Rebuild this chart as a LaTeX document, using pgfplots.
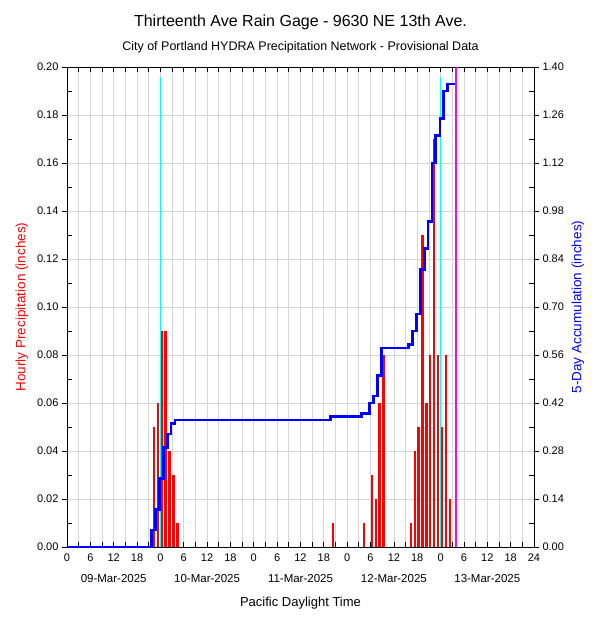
\documentclass[border=0pt]{standalone}
\usepackage{pgfplots}
\pgfplotsset{compat=1.18}
\usepackage{fontspec}
\setmainfont{Liberation Sans}
\definecolor{gridgray}{RGB}{214,214,214}
\definecolor{accblue}{RGB}{0,0,255}
\definecolor{precred}{RGB}{255,0,0}
\definecolor{daycyan}{RGB}{0,255,255}
\definecolor{nowmag}{RGB}{255,0,255}
\newcommand\fs[1]{\fontsize{#1}{#1}\selectfont}
\begin{document}
\begin{tikzpicture}[x=1pt,y=1pt]
\useasboundingbox (0,0) rectangle (600,625);
% ---------- left axis: hourly precipitation ----------
\begin{axis}[
  scale only axis, width=467pt, height=480pt,
  at={(67pt,78pt)}, anchor=south west,
  xmin=0, xmax=120, ymin=0, ymax=0.2,
  clip=false,
  axis line style={black, line width=0.8pt},
  xtick={0,6,...,120}, minor xtick={3,9,...,117},
  xticklabels={0,6,12,18,0,6,12,18,0,6,12,18,0,6,12,18,0,6,12,18,24},
  ytick={0,0.02,0.04,0.06,0.08,0.10,0.12,0.14,0.16,0.18,0.20},
  minor ytick={0.01,0.03,0.05,0.07,0.09,0.11,0.13,0.15,0.17,0.19},
  xtick pos=both, ytick pos=left,
  tick align=inside,
  major tick length=5pt, minor tick length=5pt,
  every tick/.style={black, line width=0.8pt},
  every major y tick/.style={xshift=-5pt},
  xmajorgrids, xminorgrids, ymajorgrids,
  grid style={gridgray, line width=0.8pt},
  minor grid style={gridgray, line width=0.8pt},
  tick label style={font=\fs{11}},
  /pgf/number format/assume math mode=true,
  yticklabel style={xshift=-5pt, /pgf/number format/fixed, /pgf/number format/fixed zerofill, /pgf/number format/precision=2},
  xticklabel style={yshift=-3pt},
]
\addplot[ycomb, draw=precred, line width=2.4pt, mark=none] coordinates {
 (22.35,0.05) (23.35,0.06) (24.35,0.09) (25.35,0.09) (26.35,0.04) (27.35,0.03) (28.35,0.01)
 (68.35,0.01) (76.35,0.01) (78.35,0.03) (79.35,0.02) (80.35,0.06) (81.35,0.08)
 (88.35,0.01) (89.35,0.04) (90.35,0.05) (91.35,0.13) (92.35,0.06) (93.35,0.08)
 (94.35,0.17) (95.35,0.08) (96.35,0.05) (97.35,0.08) (98.35,0.02)
};
\addplot[daycyan, line width=1pt, mark=none] coordinates {(24,0) (24,0.196)};
\addplot[daycyan, line width=1pt, mark=none] coordinates {(96,0) (96,0.196)};
\node[font=\fs{11.5}] at (axis cs:12,0)  [yshift=-32pt] {09-Mar-2025};
\node[font=\fs{11.5}] at (axis cs:36,0)  [yshift=-32pt] {10-Mar-2025};
\node[font=\fs{11.5}] at (axis cs:60,0)  [yshift=-32pt] {11-Mar-2025};
\node[font=\fs{11.5}] at (axis cs:84,0)  [yshift=-32pt] {12-Mar-2025};
\node[font=\fs{11.5}] at (axis cs:108,0) [yshift=-32pt] {13-Mar-2025};
\end{axis}
% ---------- right axis: 5-day accumulation ----------
\begin{axis}[
  scale only axis, width=467pt, height=480pt,
  at={(67pt,78pt)}, anchor=south west,
  xmin=0, xmax=120, ymin=0, ymax=1.4,
  clip=false,
  axis line style={black, line width=0.8pt},
  xtick=\empty,
  ytick={0,0.14,0.28,0.42,0.56,0.70,0.84,0.98,1.12,1.26,1.40},
  minor ytick={0.07,0.21,0.35,0.49,0.63,0.77,0.91,1.05,1.19,1.33},
  ytick pos=right, yticklabel pos=right,
  tick align=inside,
  major tick length=5pt, minor tick length=5pt,
  every tick/.style={black, line width=0.8pt},
  every major y tick/.style={xshift=5pt},
  tick label style={font=\fs{11}},
  /pgf/number format/assume math mode=true,
  yticklabel style={xshift=5pt, /pgf/number format/fixed, /pgf/number format/fixed zerofill, /pgf/number format/precision=2},
]
\addplot[const plot, draw=accblue, line width=2.6pt, mark=none] coordinates {
 (0,0) (21.75,0.05) (22.75,0.11) (23.75,0.20) (24.75,0.29) (25.75,0.33) (26.75,0.36) (27.75,0.37)
 (67.75,0.38) (75.75,0.39) (77.8,0.42) (78.8,0.44) (79.8,0.50) (80.8,0.58)
 (87.75,0.59) (88.75,0.63) (89.8,0.68) (90.8,0.81) (91.8,0.87) (92.8,0.95)
 (93.8,1.12) (94.75,1.20) (95.8,1.25) (96.75,1.33) (97.8,1.35) (99.9,1.35)
};
\addplot[nowmag, line width=2pt, mark=none] coordinates {(99.95,0) (99.95,1.4)};
\end{axis}
% ---------- titles and labels ----------
\node[font=\fs{16}] at (300.5,603) {Thirteenth Ave Rain Gage - 9630 NE 13th Ave.};
\node[font=\fs{12.5}] at (300.5,578) {City of Portland HYDRA Precipitation Network - Provisional Data};
\node[font=\fs{13}] at (300.5,22) {Pacific Daylight Time};
\node[font=\fs{13.5}, text=precred, rotate=90] at (22,318) {Hourly Precipitation (inches)};
\node[font=\fs{13.5}, text=accblue, rotate=90] at (578,318) {5-Day Accumulation (inches)};
\end{tikzpicture}
\end{document}
